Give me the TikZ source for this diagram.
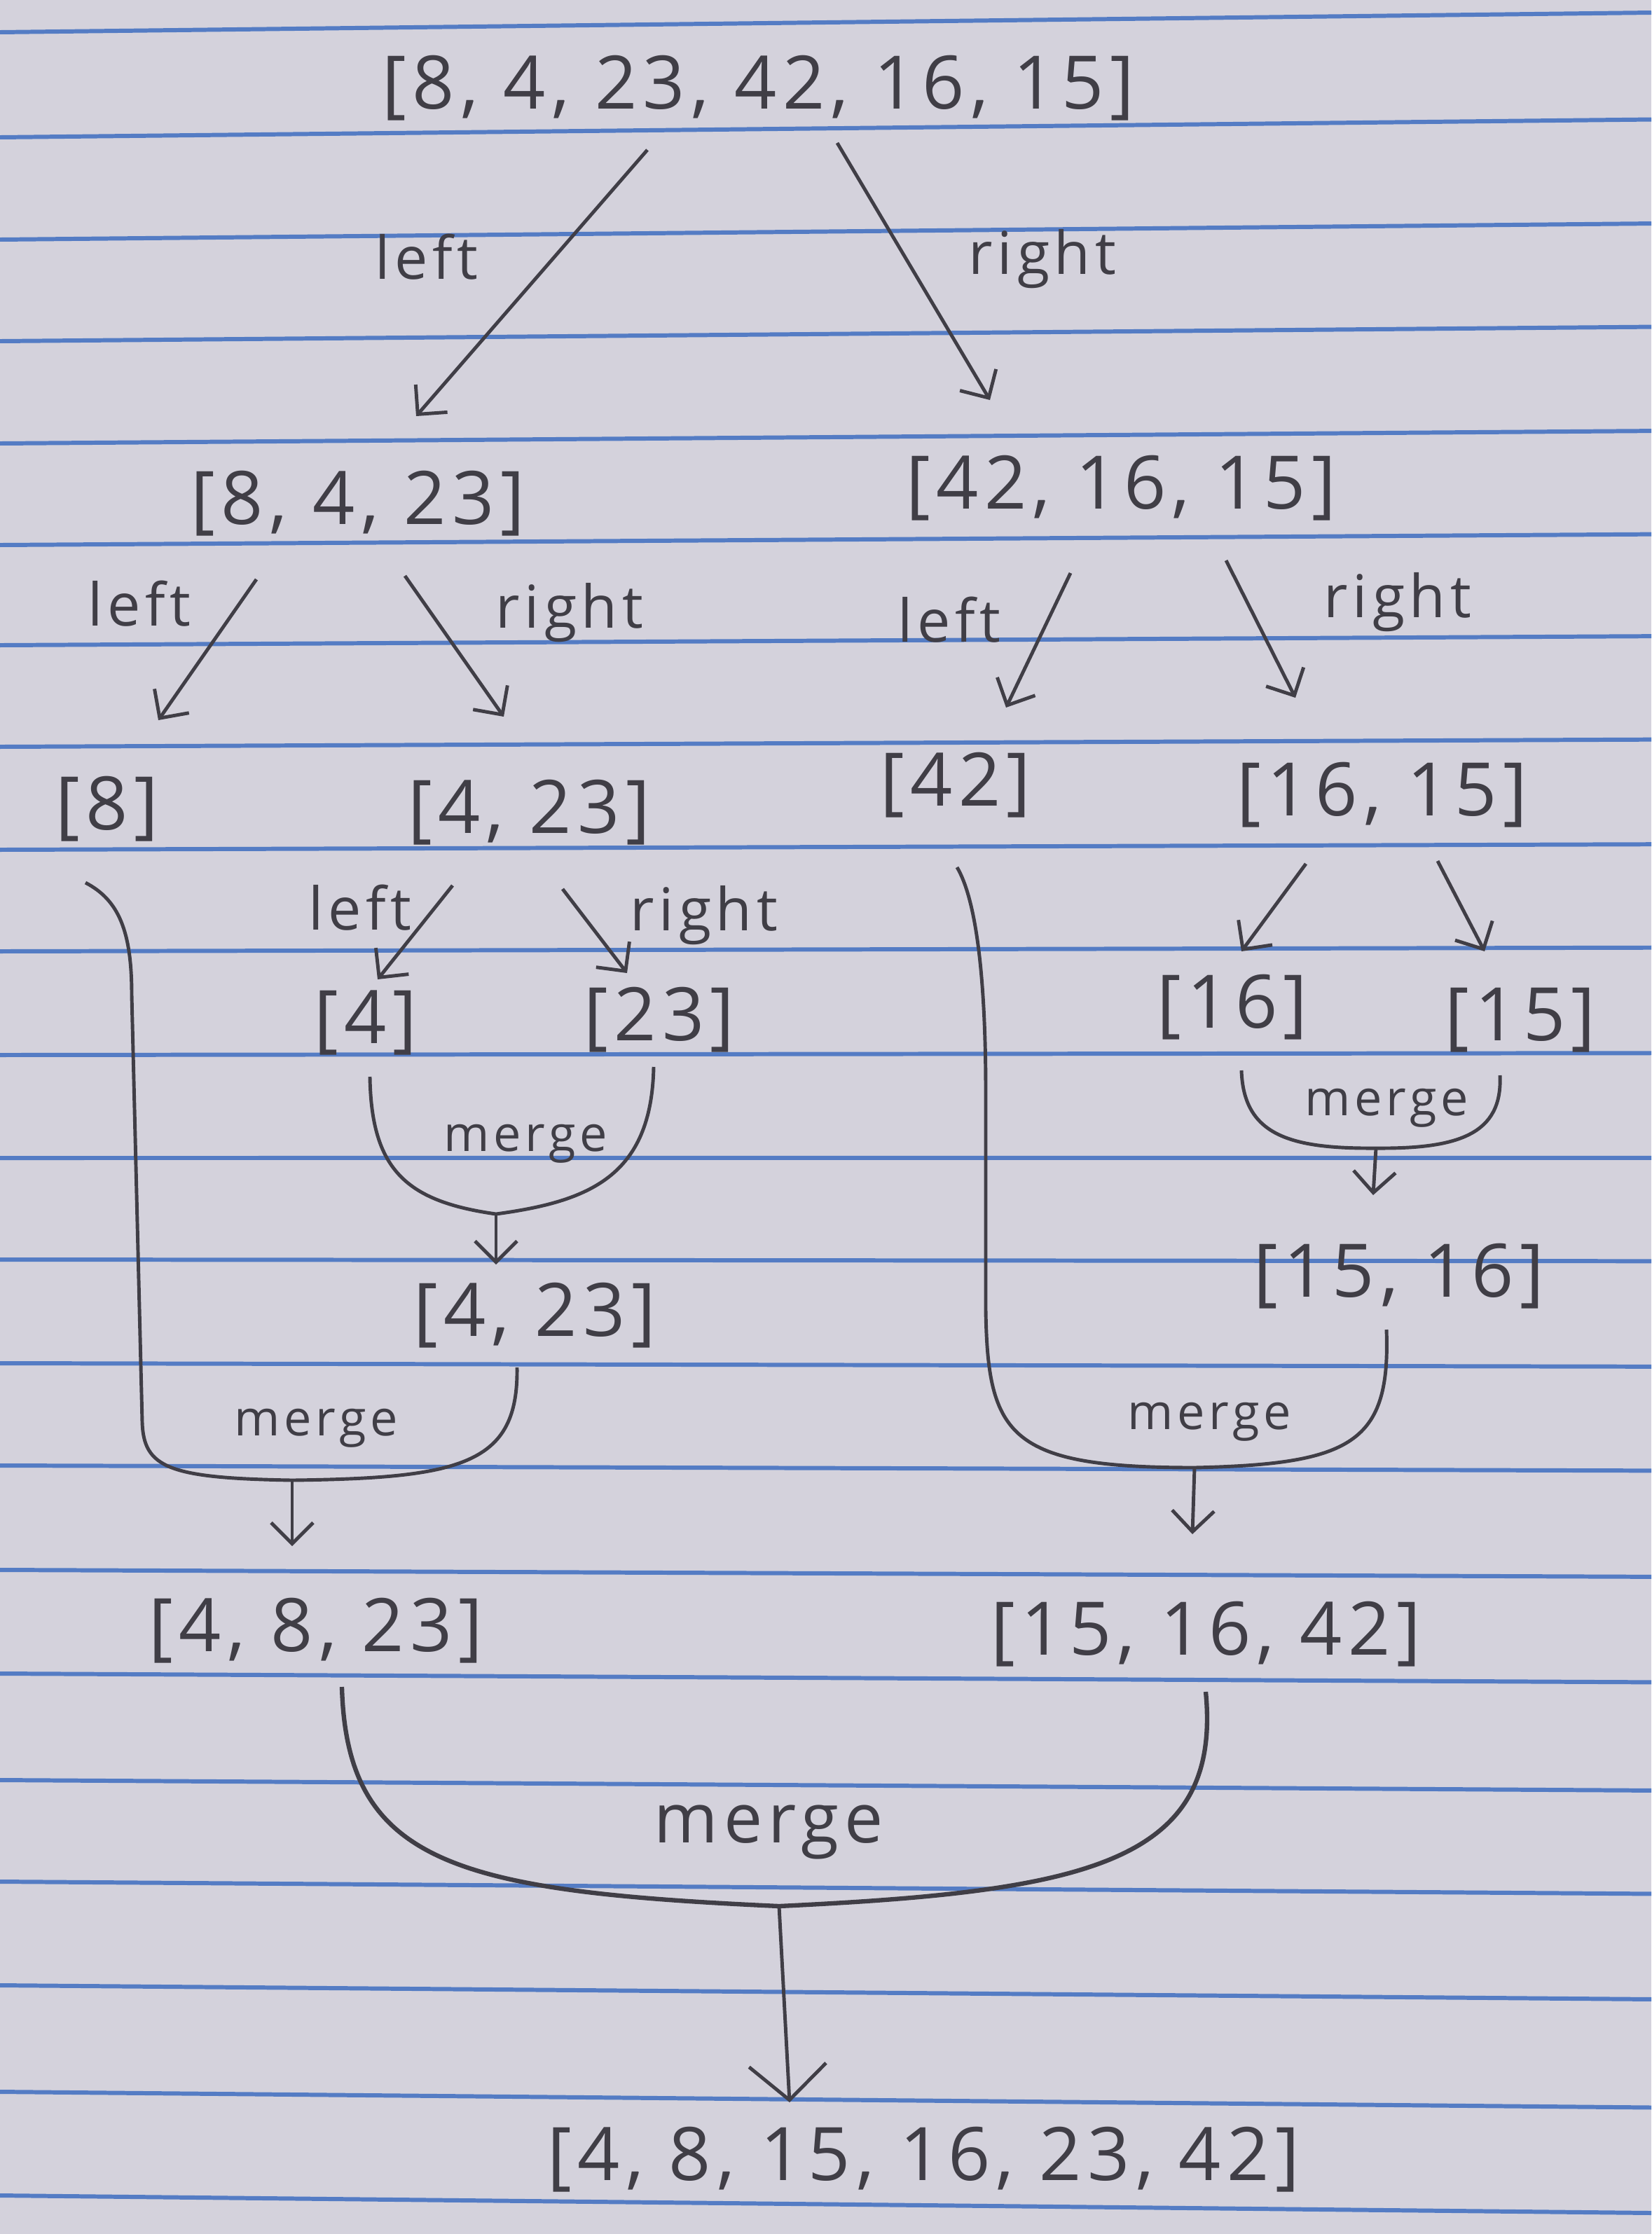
\documentclass[tikz,border=0pt]{standalone}
\usepackage{fontspec}
\setmainfont{Open Sans}[LetterSpace=8]
\usepackage{tikz}
\usetikzlibrary{arrows.meta, calc}
\usepackage{xcolor}
\definecolor{paper}{RGB}{212, 210, 220}
\definecolor{ruling}{RGB}{84, 124, 196}
\definecolor{ink}{RGB}{64, 62, 70}

\begin{document}
\begin{tikzpicture}[
    list/.style={font=\fontsize{30}{36}\selectfont, text=ink, inner sep=0pt},
    lbl/.style={font=\fontsize{24}{28}\selectfont, text=ink, inner sep=0pt},
    mrg/.style={font=\fontsize{20}{24}\selectfont, text=ink, inner sep=0pt},
    arr/.style={draw=ink, line width=1.4pt, -{Straight Barb[length=3mm,width=6mm]}},
    bigarr/.style={draw=ink, line width=1.4pt, -{Straight Barb[length=5mm,width=11mm]}},
    brace/.style={draw=ink, line width=1.4pt},
  ]
  % lined paper
  \useasboundingbox (0,0) rectangle (23.57,-31.89);
  \fill[paper] (0,0) rectangle (23.57,-31.89);
  \foreach \y [count=\k from 0] in {0.46,1.96,3.42,4.87,6.33,7.78,9.21,10.66,12.13,13.58,15.06,
      16.53,17.98,19.46,20.92,22.41,23.89,25.41,26.86,28.34,29.86,31.34} {
    \pgfmathsetmacro{\yr}{-\y+0.28-0.53*\k/21}
    \draw[ruling, line width=1.7pt] (0,-\y) -- (23.57,\yr);
  }

  % lists
  \node[list] (top) at (10.82,-1.26) {[8, 4, 23, 42, 16, 15]};
  \node[list] (l)   at (5.11,-7.19)  {[8, 4, 23]};
  \node[list] (r)   at (16.00,-6.97) {[42, 16, 15]};
  \node[list] (ll)  at (1.53,-11.55) {[8]};
  \node[list] (lr)  at (7.55,-11.60) {[4, 23]};
  \node[list] (rl)  at (13.64,-11.21) {[42]};
  \node[list] (rr)  at (19.73,-11.35) {[16, 15]};
  \node[list] (lrl) at (5.22,-14.60) {[4]};
  \node[list] (lrr) at (9.41,-14.56) {[23]};
  \node[list] (rrl) at (17.59,-14.38) {[16]};
  \node[list] (rrr) at (21.70,-14.56) {[15]};
  \node[list] (lrm) at (7.63,-18.78) {[4, 23]};
  \node[list] (rrm) at (19.97,-18.22) {[15, 16]};
  \node[list] (lm)  at (4.51,-23.28) {[4, 8, 23]};
  \node[list] (rm)  at (17.21,-23.33) {[15, 16, 42]};
  \node[list] (all) at (13.18,-30.83) {[4, 8, 15, 16, 23, 42]};

  % splitting
  \draw[arr] ([shift={(-1.58,-0.88)}]top.center) -- ([shift={(0.83,1.25)}]l.center);
  \draw[arr] ([shift={(1.13,-0.78)}]top.center) -- ([shift={(-1.87,1.26)}]r.center);
  \draw[arr] ([shift={(-1.45,-1.08)}]l.center) -- ([shift={(0.73,1.27)}]ll.center);
  \draw[arr] ([shift={(0.67,-1.03)}]l.center) -- ([shift={(-0.36,1.37)}]lr.center);
  \draw[arr] ([shift={(-0.72,-1.21)}]r.center) -- ([shift={(0.72,1.11)}]rl.center);
  \draw[arr] ([shift={(1.50,-1.03)}]r.center) -- ([shift={(-1.24,1.39)}]rr.center);
  \draw[arr] ([shift={(-1.09,-1.04)}]lr.center) -- ([shift={(0.17,0.62)}]lrl.center);
  \draw[arr] ([shift={(0.48,-1.09)}]lr.center) -- ([shift={(-0.46,0.67)}]lrr.center);
  \draw[arr] ([shift={(-1.09,-0.98)}]rr.center) -- ([shift={(0.13,0.80)}]rrl.center);
  \draw[arr] ([shift={(0.79,-0.94)}]rr.center) -- ([shift={(-0.51,0.98)}]rrr.center);

  \node[lbl] (tl)  at (6.09,-3.67)  {left};
  \node[lbl] (tr)  at (14.88,-3.70) {right};
  \node[lbl] (ltl) at (1.99,-8.62)  {left};
  \node[lbl] (ltr) at (8.13,-8.75)  {right};
  \node[lbl] (rtl) at (13.55,-8.85) {left};
  \node[lbl] (rtr) at (19.95,-8.60) {right};
  \node[lbl] (mtl) at (5.14,-12.96) {left};
  \node[lbl] (mtr) at (10.05,-13.07) {right};

  % merging
  \coordinate (m1) at (7.08,-17.33);
  \coordinate (m2) at (4.17,-21.13);
  \coordinate (m3) at (19.64,-16.39);
  \coordinate (m4) at (17.05,-20.95);
  \coordinate (m5) at (11.12,-27.21);

  \draw[brace] ([shift={(0.06,-0.77)}]lrl.center) .. controls (5.30,-16.7) and (5.8,-17.15) .. (m1)
    .. controls (8.4,-17.15) and (9.3,-16.8) .. ([shift={(-0.08,-0.67)}]lrr.center);
  \draw[brace] ([shift={(0.13,-0.90)}]rrl.center) .. controls (17.75,-16.2) and (18.4,-16.4) .. (m3)
    .. controls (20.8,-16.4) and (21.45,-16.2) .. ([shift={(-0.29,-0.79)}]rrr.center);
  \draw[brace] ([shift={(-0.31,-1.05)}]ll.center) .. controls (1.7,-12.85) and (1.88,-13.3) .. (1.88,-14.2)
    -- (2.03,-20.3) .. controls (2.05,-20.95) and (2.4,-21.1) .. (m2)
    .. controls (6.6,-21.1) and (7.4,-20.9) .. ([shift={(-0.25,-0.74)}]lrm.center);
  \draw[brace] ([shift={(0.02,-1.17)}]rl.center) .. controls (13.85,-12.7) and (14.07,-13.5) .. (14.07,-15.6)
    -- (14.07,-18.7) .. controls (14.1,-20.5) and (14.4,-20.95) .. (m4)
    .. controls (19.3,-20.9) and (19.85,-20.6) .. ([shift={(-0.18,-0.76)}]rrm.center);
  \draw[brace, line width=1.8pt] ([shift={(0.37,-0.80)}]lm.center) .. controls (4.95,-26.6) and (6.5,-27.0) .. (m5)
    .. controls (15.5,-27.0) and (17.45,-26.6) .. ([shift={(0,-0.82)}]rm.center);

  \draw[arr] (m1) -- ([shift={(-0.55,0.73)}]lrm.center);
  \draw[arr] (m2) -- ([shift={(-0.34,1.21)}]lm.center);
  \draw[arr] (m3) -- ([shift={(-0.37,1.16)}]rrm.center);
  \draw[arr] (m4) -- ([shift={(-0.19,1.43)}]rm.center);
  \draw[bigarr] (m5) -- ([shift={(-1.91,0.82)}]all.center);

  \node[mrg] (g1) at (7.50,-16.33)  {merge};
  \node[mrg] (g2) at (19.79,-15.82) {merge};
  \node[mrg] (g3) at (4.51,-20.39)  {merge};
  \node[mrg] (g4) at (17.26,-20.30) {merge};
  \node[mrg, font=\fontsize{28}{32}\selectfont] (g5) at (10.97,-26.15) {merge};
\end{tikzpicture}
\end{document}
